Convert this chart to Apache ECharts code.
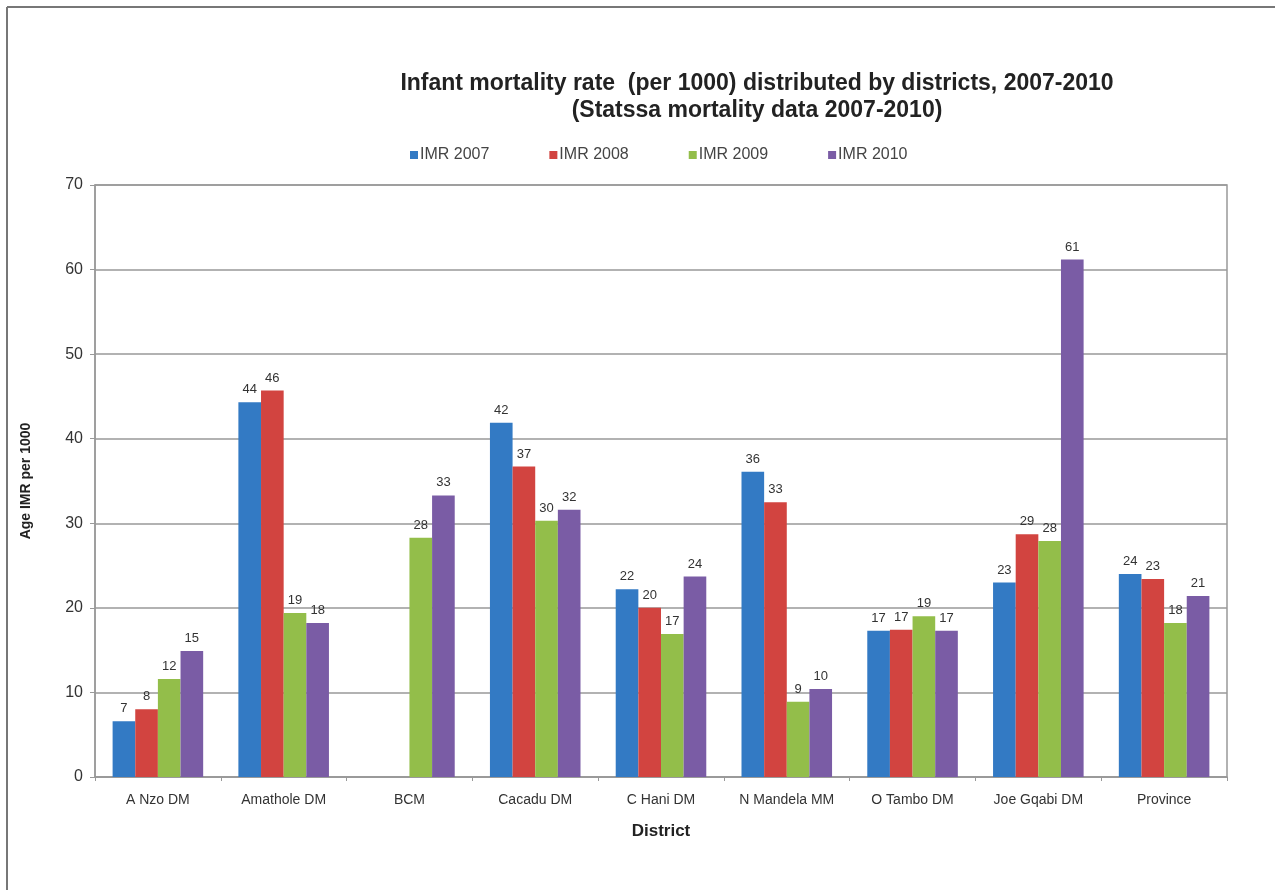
<!DOCTYPE html>
<html>
<head>
<meta charset="utf-8">
<script src="https://cdn.jsdelivr.net/npm/echarts@6/dist/echarts.min.js"></script>
<style>
  html, body { margin: 0; padding: 0; background: #fff; }
  #chart { width: 1275px; height: 890px; }
</style>
</head>
<body>
<div id="chart"></div>
<script>
  // districts on the x axis
  const districts = ['A Nzo DM', 'Amathole DM', 'BCM', 'Cacadu DM', 'C Hani DM',
    'N Mandela MM', 'O Tambo DM', 'Joe Gqabi DM', 'Province'];

  // IMR per year (BCM has no 2007/2008 values)
  const imr2007 = [6.6, 44.3, null, 41.9, 22.2, 36.1, 17.3, 23.0, 24.0];
  const imr2008 = [8.0, 45.7, null, 36.7, 20.0, 32.5, 17.4, 28.7, 23.4];
  const imr2009 = [11.6, 19.4, 28.3, 30.3, 16.9, 8.9, 19.0, 27.9, 18.2];
  const imr2010 = [14.9, 18.2, 33.3, 31.6, 23.7, 10.4, 17.3, 61.2, 21.4];

  const yTicks = [0, 10, 20, 30, 40, 50, 60, 70];

  const seriesNames = ['IMR 2007', 'IMR 2008', 'IMR 2009', 'IMR 2010'];
  const seriesData = [imr2007, imr2008, imr2009, imr2010];
  const colors = ['#337ac4', '#d24440', '#93be4a', '#7a5ca5'];

  const font = 'Arial, "Liberation Sans", sans-serif';

  const option = {
    animation: false,
    backgroundColor: '#fff',
    color: colors,
    title: {
      text: 'Infant mortality rate  (per 1000) distributed by districts, 2007-2010\n(Statssa mortality data 2007-2010)',
      left: 752,
      top: 65,
      textAlign: 'center',
      textStyle: {
        fontFamily: font,
        fontSize: 23,
        fontWeight: 'bold',
        color: '#222',
        lineHeight: 27
      }
    },
    legend: {
      data: seriesNames,
      left: 405,
      top: 142,
      itemWidth: 8,
      itemHeight: 8,
      itemGap: 60,
      icon: 'rect',
      textStyle: { fontFamily: font, fontSize: 16, color: '#444', padding: [0, 0, 0, -3] }
    },
    grid: {
      left: 95,
      right: 48,
      top: 185,
      bottom: 113,
      show: true,
      borderColor: '#999',
      borderWidth: 1.5,
      backgroundColor: 'transparent'
    },
    xAxis: {
      type: 'category',
      data: districts,
      name: 'District',
      nameLocation: 'middle',
      nameGap: 46,
      nameTextStyle: { fontFamily: font, fontSize: 17, fontWeight: 'bold', color: '#222' },
      axisLine: { lineStyle: { color: '#999', width: 1.5 } },
      axisTick: { show: true, length: 4, lineStyle: { color: '#999' } },
      axisLabel: { fontFamily: font, fontSize: 14, color: '#333', margin: 16, interval: 0 }
    },
    yAxis: {
      type: 'value',
      min: 0,
      max: 70,
      interval: 10,
      name: 'Age IMR per 1000',
      nameLocation: 'middle',
      nameGap: 62,
      nameTextStyle: { fontFamily: font, fontSize: 14, fontWeight: 'bold', color: '#222' },
      axisLine: { show: true, lineStyle: { color: '#999', width: 1.5 } },
      axisTick: { show: true, length: 5, inside: false, lineStyle: { color: '#999' } },
      axisLabel: {
        fontFamily: font, fontSize: 16, color: '#333', margin: 12,
        formatter: (v) => (yTicks.includes(v) ? String(v) : '')
      },
      splitLine: { lineStyle: { color: '#999', width: 1.5 } }
    },
    series: seriesNames.map((name, i) => ({
      name: name,
      type: 'bar',
      data: seriesData[i],
      barGap: 0,
      barCategoryGap: '28%',
      itemStyle: { color: colors[i] },
      label: {
        show: true,
        position: 'top',
        distance: 6,
        fontFamily: font,
        fontSize: 13,
        color: '#333',
        formatter: (p) => (p.value == null ? '' : String(Math.round(p.value)))
      }
    })),
    graphic: [
      {
        type: 'line',
        shape: { x1: 7, y1: 7, x2: 7, y2: 890 },
        style: { stroke: '#777', lineWidth: 2 }
      },
      {
        type: 'line',
        shape: { x1: 7, y1: 7, x2: 1275, y2: 7 },
        style: { stroke: '#777', lineWidth: 2 }
      }
    ]
  };

  const myChart = echarts.init(document.getElementById('chart'));
  myChart.setOption(option);
</script>
</body>
</html>
